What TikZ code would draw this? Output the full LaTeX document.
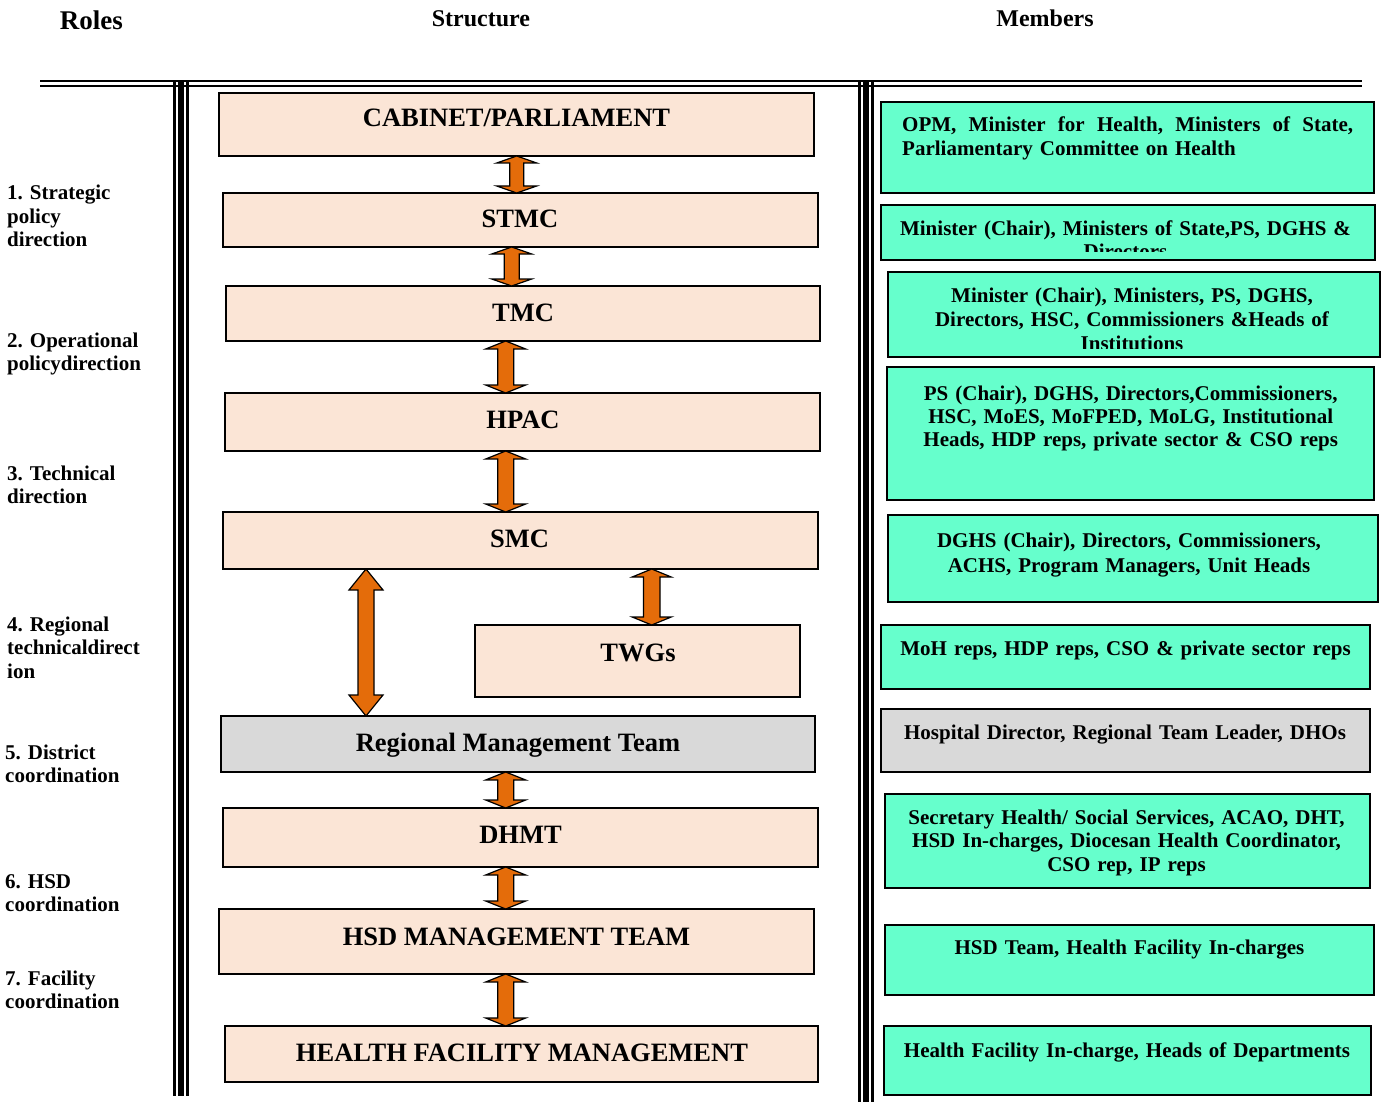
\documentclass[tikz,border=0pt]{standalone}
\usepackage{fontspec}
\setmainfont{Liberation Serif}
\usetikzlibrary{calc}
\definecolor{peach}{HTML}{FBE5D6}
\definecolor{mint}{HTML}{66FFCC}
\definecolor{lgray}{HTML}{D9D9D9}
\definecolor{aorange}{HTML}{E46C0A}
\newcommand\blockarrow[6]{%
  \draw[barrow] let \p1=(#1.south), \p2=(#2.north) in
    (#3,\y1) -- (#3+#5,\y1-#6) -- (#3+#4,\y1-#6) -- (#3+#4,\y2+#6) -- (#3+#5,\y2+#6)
    -- (#3,\y2) -- (#3-#5,\y2+#6) -- (#3-#4,\y2+#6) -- (#3-#4,\y1-#6) -- (#3-#5,\y1-#6) -- cycle;}
\frenchspacing
\begin{document}
\begin{tikzpicture}[x=1pt,y=-1pt,
  sbox/.style={draw=black, line width=1.6pt, fill=peach, inner sep=0pt, outer sep=0pt},
  gbox/.style={sbox, fill=lgray},
  mbox/.style={draw=black, line width=1.6pt, fill=mint, inner sep=0pt, outer sep=0pt},
  mgbox/.style={mbox, fill=lgray},
  ttl/.style={anchor=base, inner sep=0pt, font=\fontsize{26.5}{30}\selectfont\bfseries},
  mtxt/.style={anchor=base, inner sep=0pt, text width=480pt, align=center, font=\fontsize{21}{24}\selectfont\bfseries},
  roletxt/.style={anchor=base west, inner sep=0pt, text width=170pt, align=left, font=\fontsize{21}{23.7}\selectfont\bfseries},
  hdr/.style={anchor=base, inner sep=0pt, font=\fontsize{24}{28}\selectfont\bfseries},
  barrow/.style={draw=black, fill=aorange, line width=1.2pt, line join=miter},
  rulethin/.style={draw=black, line width=2.8pt},
  rulethick/.style={draw=black, line width=6pt}
]
\useasboundingbox (0,0) rectangle (1381,1102);

% headers
\node[hdr, anchor=base west, font=\fontsize{27}{30}\selectfont\bfseries] (hroles) at (59.7,29.5) {Roles};
\node[hdr] (hstruct) at (481,26.5) {Structure};
\node[hdr] (hmem) at (1045,26.5) {Members};

% rules
\draw[draw=black, line width=2.2pt] (40,81) -- (1362,81);
\draw[draw=black, line width=2.2pt] (40,86) -- (1362,86);
\draw[rulethin] (174.8,82) -- (174.8,1096);
\draw[rulethick] (181,82) -- (181,1096);
\draw[rulethin] (187.7,82) -- (187.7,1096);
\draw[rulethin] (859.5,82) -- (859.5,1102);
\draw[rulethick] (866,82) -- (866,1102);
\draw[rulethin] (872.5,82) -- (872.5,1102);

% roles
\node[roletxt] (r1) at (7,199.5) {1. Strategic\\policy\\direction};
\node[roletxt] (r2) at (7,347) {2. Operational\\policydirection};
\node[roletxt] (r3) at (7,480) {3. Technical\\direction};
\node[roletxt] (r4) at (7,631) {4. Regional\\technicaldirect\\ion};
\node[roletxt] (r5) at (5,759) {5. District\\coordination};
\node[roletxt] (r6) at (5,888) {6. HSD\\coordination};
\node[roletxt] (r7) at (5,985) {7. Facility\\coordination};

% structure boxes
\node[sbox, minimum width=595pt, minimum height=63pt] (cab) at (516.5,124.5) {};
\node[sbox, minimum width=595pt, minimum height=54pt] (stmc) at (520.5,220) {};
\node[sbox, minimum width=594pt, minimum height=55pt] (tmc) at (523,313.5) {};
\node[sbox, minimum width=595pt, minimum height=58pt] (hpac) at (522.5,422) {};
\node[sbox, minimum width=595pt, minimum height=57pt] (smc) at (520.5,540.5) {};
\node[sbox, minimum width=325pt, minimum height=72pt] (twg) at (637.5,661) {};
\node[gbox, minimum width=594pt, minimum height=56pt] (rmt) at (518,744) {};
\node[sbox, minimum width=595pt, minimum height=59pt] (dhmt) at (520.5,837.5) {};
\node[sbox, minimum width=595pt, minimum height=65pt] (hsd) at (516.5,941.5) {};
\node[sbox, minimum width=593pt, minimum height=56pt] (hf) at (521.5,1054) {};

% titles
\node[ttl] (cabT) at (516.5,127) {CABINET/PARLIAMENT};
\node[ttl] (stmcT) at (520,227.3) {STMC};
\node[ttl] (tmcT) at (523,321) {TMC};
\node[ttl] (hpacT) at (523,428.3) {HPAC};
\node[ttl] (smcT) at (519.5,547) {SMC};
\node[ttl] (twgT) at (638,661) {TWGs};
\node[ttl] (rmtT) at (518,751) {Regional Management Team};
\node[ttl] (dhmtT) at (520.5,843.3) {DHMT};
\node[ttl] (hsdT) at (516.5,945) {HSD MANAGEMENT TEAM};
\node[ttl] (hfT) at (522,1061) {HEALTH FACILITY MANAGEMENT};

% arrows
\blockarrow{cab}{stmc}{516.7pt}{7pt}{20pt}{7pt}
\blockarrow{stmc}{tmc}{511.7pt}{7.5pt}{20pt}{7pt}
\blockarrow{tmc}{hpac}{505.7pt}{8pt}{20pt}{8pt}
\blockarrow{hpac}{smc}{505.7pt}{8pt}{20pt}{8pt}
\blockarrow{smc}{rmt}{366pt}{8pt}{17pt}{21pt}
\blockarrow{smc}{twg}{651.7pt}{8.3pt}{19.5pt}{8pt}
\blockarrow{rmt}{dhmt}{505.7pt}{8pt}{20pt}{8pt}
\blockarrow{dhmt}{hsd}{505.7pt}{8pt}{20pt}{8pt}
\blockarrow{hsd}{hf}{505.7pt}{8pt}{20pt}{8pt}

% member boxes
\node[mbox, minimum width=493pt, minimum height=91pt] (m1) at (1127.5,147.5) {};
\node[mbox, minimum width=494pt, minimum height=55pt] (m2) at (1128,232.5) {};
\node[mbox, minimum width=492pt, minimum height=85pt] (m3) at (1134,314.5) {};
\node[mbox, minimum width=487pt, minimum height=133pt] (m4) at (1130.5,433.5) {};
\node[mbox, minimum width=490pt, minimum height=87pt] (m5) at (1133,558.5) {};
\node[mbox, minimum width=489pt, minimum height=64pt] (m6) at (1125.5,657) {};
\node[mgbox, minimum width=489pt, minimum height=63pt] (m7) at (1125.5,740.5) {};
\node[mbox, minimum width=485pt, minimum height=94pt] (m8) at (1127.5,841) {};
\node[mbox, minimum width=489pt, minimum height=70pt] (m9) at (1129.5,960) {};
\node[mbox, minimum width=487pt, minimum height=69pt] (m10) at (1127.5,1060.5) {};

% member texts
\node[mtxt, anchor=base west, text width=452pt, align=left] (m1t) at (902,131.7)
  {\hbox to 451pt{OPM,\hfil Minister\hfil for\hfil Health,\hfil Ministers\hfil of\hfil State,}\\Parliamentary Committee on Health};
\begin{scope}
  \clip (881,205) rectangle (1375,251);
  \node[mtxt] (m2t) at (1125.5,235) {Minister (Chair), Ministers of State,PS, DGHS \&\\Directors};
\end{scope}
\begin{scope}
  \clip (888,272) rectangle (1380,348.5);
  \node[mtxt, font=\fontsize{21}{24.2}\selectfont\bfseries] (m3t) at (1132,302)
    {Minister (Chair), Ministers, PS, DGHS,\\Directors, HSC, Commissioners \&Heads of\\Institutions};
\end{scope}
\node[mtxt, font=\fontsize{21}{23}\selectfont\bfseries] (m4t) at (1130.7,400.5)
  {PS (Chair), DGHS, Directors,Commissioners,\\HSC, MoES, MoFPED, MoLG, Institutional\\Heads, HDP reps, private sector \& CSO reps};
\node[mtxt, font=\fontsize{21}{25.4}\selectfont\bfseries] (m5t) at (1129,547.3)
  {DGHS (Chair), Directors, Commissioners,\\ACHS, Program Managers, Unit Heads};
\node[mtxt] (m6t) at (1125.5,655) {MoH reps, HDP reps, CSO \& private sector reps};
\node[mtxt] (m7t) at (1125,739) {Hospital Director, Regional Team Leader, DHOs};
\node[mtxt, font=\fontsize{21}{23.5}\selectfont\bfseries] (m8t) at (1126.5,824)
  {Secretary Health/ Social Services, ACAO, DHT,\\HSD In-charges, Diocesan Health Coordinator,\\CSO rep, IP reps};
\node[mtxt] (m9t) at (1129.5,954) {HSD Team, Health Facility In-charges};
\node[mtxt] (m10t) at (1127,1057) {Health Facility In-charge, Heads of Departments};
\end{tikzpicture}
\end{document}
